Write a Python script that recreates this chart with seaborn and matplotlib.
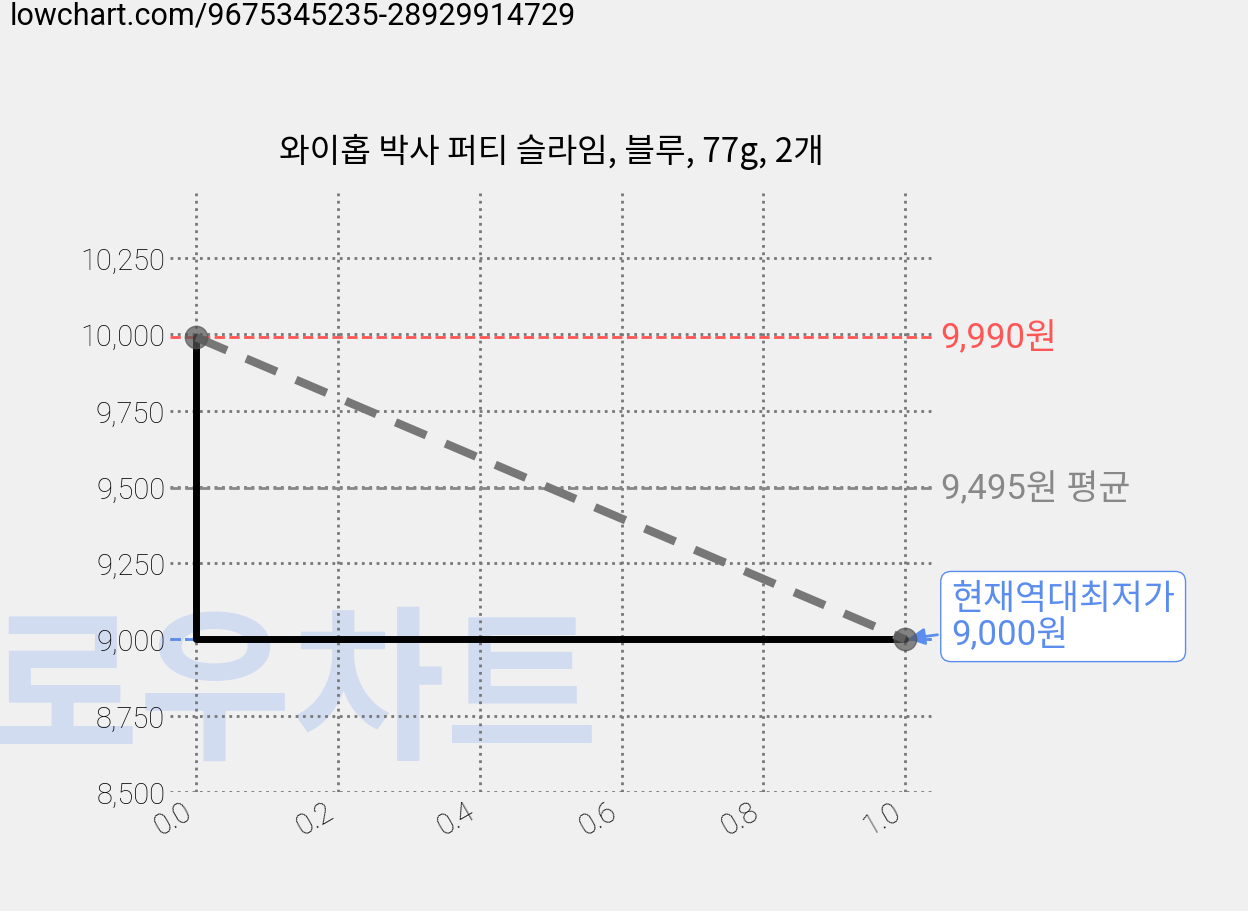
import numpy as np
import pandas as pd
import matplotlib.pyplot as plt
import seaborn as sns

# 가격 데이터
dates = [0.0, 1.0]
prices = [9990, 9000]
max_price = 9990
avg_price = 9495
min_price = 9000
title = '와이홉 박사 퍼티 슬라임, 블루, 77g, 2개'
url = 'lowchart.com/9675345235-28929914729'
yticks = [8500, 8750, 9000, 9250, 9500, 9750, 10000, 10250]
xticks = [0.0, 0.2, 0.4, 0.6, 0.8, 1.0]

sns.set_theme(style='white')
plt.rcParams['font.family'] = ['Roboto', 'Noto Sans CJK KR', 'DejaVu Sans']
plt.rcParams['text.color'] = 'black'
plt.rcParams['xtick.color'] = 'black'
plt.rcParams['ytick.color'] = 'black'
bg = '#f0f0f0'

fig = plt.figure(figsize=(12.48, 9.12), dpi=100, facecolor=bg)
ax = fig.add_axes([170 / 1248, 1 - 793 / 912, (932 - 170) / 1248, (793 - 190) / 912])
ax.patch.set_alpha(0)

# 워터마크 (축 뒤에)
fig.text(-0.012, 0.182, '로우차트', fontsize=120, fontweight='black',
         color='#c8d6f2', alpha=0.75, family=['Noto Sans CJK KR'], zorder=-5)

# 최저가 계단선
step_x = [dates[0]] + dates
step_y = [prices[0]] + list(np.minimum.accumulate(prices))
step_y[1] = min(prices)
ax.plot(step_x, step_y, color='black', linewidth=5, zorder=3)

df = pd.DataFrame({'x': dates, 'y': prices})
sns.lineplot(data=df, x='x', y='y', color='#777777', linewidth=6,
             linestyle=(0, (4, 2.5)), ax=ax, zorder=4)
ax.scatter(dates, prices, s=260, color='#555555', alpha=0.7, zorder=5)

ax.axhline(max_price, color='#ff5555', linestyle='--', linewidth=2, zorder=2)
ax.axhline(avg_price, color='#888888', linestyle='--', linewidth=2, zorder=2)
ax.axhline(min_price, color='#5b8def', linestyle='--', linewidth=2, zorder=2)

ax.text(1.05, max_price, f'{max_price:,}원', color='#ff5555', fontsize=25, va='center')
ax.text(1.05, avg_price, f'{avg_price:,}원 평균', color='#888888', fontsize=25, va='center')
ax.annotate(f'현재역대최저가\n{min_price:,}원', xy=(1.0, min_price), xytext=(1.065, min_price + 75),
            color='#5b8def', fontsize=25, va='center', linespacing=1.1,
            bbox=dict(boxstyle='round,pad=0.3', fc='white', ec='#5b8def'),
            arrowprops=dict(arrowstyle='-|>', color='#5b8def', lw=2), annotation_clip=False)

ax.set_xlim(-0.037, 1.038)
ax.set_ylim(8500, 10476)
ax.set_xticks(xticks)
ax.set_yticks(yticks)
ax.set_yticklabels([f'{v:,}' for v in yticks], fontsize=21, fontweight='light')
ax.set_xticklabels([f'{v:.1f}' for v in xticks], fontsize=21, rotation=30, ha='right', fontweight='light')
ax.tick_params(length=0)
ax.grid(True, linestyle=':', color='#777777', linewidth=2)
for s in ax.spines.values():
    s.set_visible(False)
ax.set_xlabel('')
ax.set_ylabel('')
ax.set_title(title, fontsize=24, pad=20, family=['Noto Sans CJK KR'], color='black')
fig.text(0.008, 0.982, url, fontsize=22, va='center')

plt.savefig('out.png', dpi=100, facecolor=bg)
